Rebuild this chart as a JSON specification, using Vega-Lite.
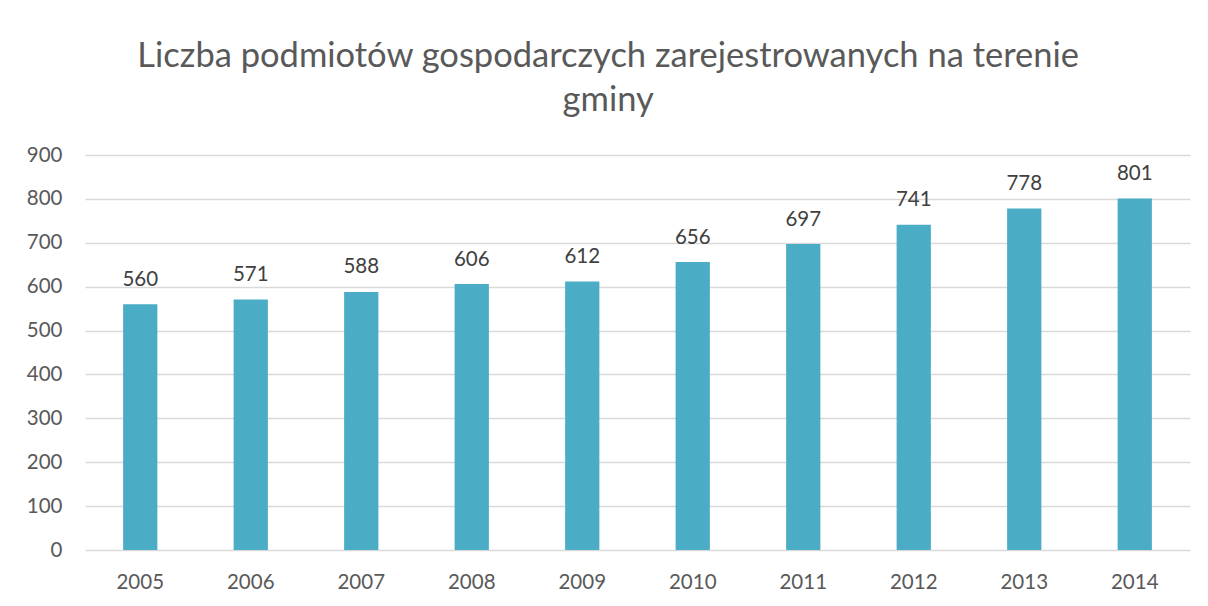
{
  "$schema": "https://vega.github.io/schema/vega-lite/v6.json",
  "autosize": "none",
  "width": 1105,
  "height": 395,
  "padding": {"left": 85, "top": 155, "right": 18, "bottom": 56},
  "background": "white",
  "title": {
    "text": ["Liczba podmiotów gospodarczych zarejestrowanych na terenie", "gminy"],
    "font": "Lato",
    "fontSize": 34.5,
    "fontWeight": "normal",
    "color": "#595959",
    "lineHeight": 44,
    "anchor": "middle",
    "frame": "bounds",
    "offset": 27
  },
  "data": {
    "values": [
      {"rok": "2005", "liczba": 560},
      {"rok": "2006", "liczba": 571},
      {"rok": "2007", "liczba": 588},
      {"rok": "2008", "liczba": 606},
      {"rok": "2009", "liczba": 612},
      {"rok": "2010", "liczba": 656},
      {"rok": "2011", "liczba": 697},
      {"rok": "2012", "liczba": 741},
      {"rok": "2013", "liczba": 778},
      {"rok": "2014", "liczba": 801}
    ]
  },
  "encoding": {
    "x": {
      "field": "rok",
      "type": "nominal",
      "sort": null,
      "title": null,
      "scale": {"paddingInner": 0.69, "paddingOuter": 0.345},
      "axis": {"labelAngle": 0, "labelPadding": 22, "labelBaseline": "top", "grid": false}
    },
    "y": {
      "field": "liczba",
      "type": "quantitative",
      "title": null,
      "scale": {"domain": [0, 900], "nice": false},
      "axis": {"values": [0, 100, 200, 300, 400, 500, 600, 700, 800, 900], "grid": true, "labelPadding": 23}
    }
  },
  "layer": [
    {"mark": {"type": "bar", "color": "#4BACC6"}},
    {
      "mark": {"type": "text", "baseline": "alphabetic", "dy": -18.5, "font": "Lato", "fontSize": 20.5, "color": "#404040"},
      "encoding": {"text": {"field": "liczba", "type": "quantitative"}}
    }
  ],
  "config": {
    "view": {"stroke": null},
    "axis": {
      "domain": false,
      "ticks": false,
      "tickSize": 0,
      "labelFont": "Lato",
      "labelFontSize": 20.5,
      "labelColor": "#595959",
      "gridColor": "#d9d9d9",
      "gridWidth": 1.3
    }
  }
}
